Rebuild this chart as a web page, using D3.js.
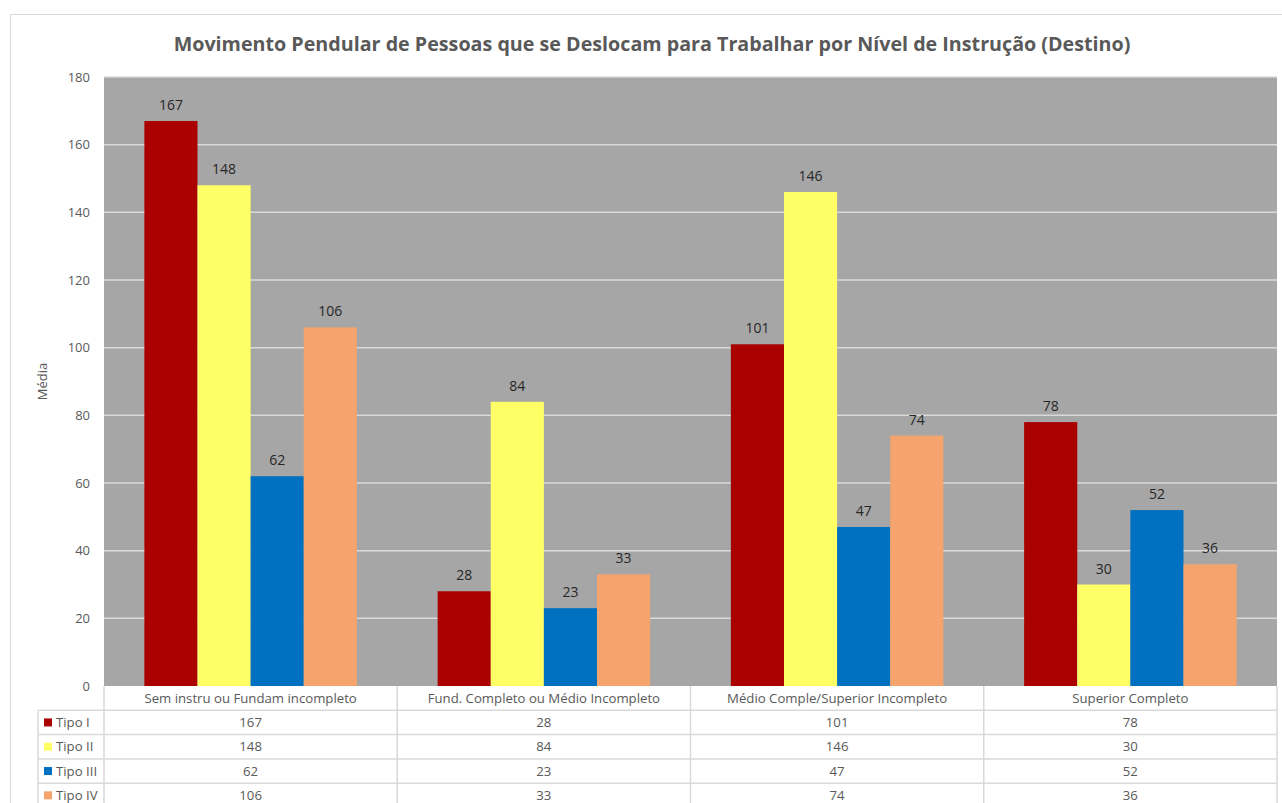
<!DOCTYPE html>
<html>
<head>
<meta charset="utf-8">
<script src="https://cdn.jsdelivr.net/npm/d3@7"></script>
<style>
  body { margin: 0; background: #fff; }
  svg { display: block; font-family: "Open Sans", "Noto Sans", sans-serif; }
</style>
</head>
<body>
<div id="chart"></div>
<script>
// Categories, series and values
const categories = [
    'Sem instru ou Fundam incompleto',
    'Fund. Completo ou Médio Incompleto',
    'Médio Comple/Superior Incompleto',
    'Superior Completo'
];
const seriesNames = ['Tipo I', 'Tipo II', 'Tipo III', 'Tipo IV'];
const seriesColors = ['#aa0000', '#ffff66', '#0070c0', '#f4a46c'];
const tipoI = [167, 28, 101, 78];
const tipoII = [148, 84, 146, 30];
const tipoIII = [62, 23, 47, 52];
const tipoIV = [106, 33, 74, 36];
const yTicks = [0, 20, 40, 60, 80, 100, 120, 140, 160, 180];

const seriesValues = [tipoI, tipoII, tipoIII, tipoIV];

const W = 1282, H = 803;
const plot = { left: 104, right: 1277, top: 77, bottom: 686 };
const rowH = 24.3;
const legendLeft = 38;

const svg = d3.select('#chart').append('svg')
    .attr('width', W)
    .attr('height', H);

// Outer chart border (only top and left edges are visible)
svg.append('path')
    .attr('d', `M10.5,${H} L10.5,14.5 L${W},14.5`)
    .attr('fill', 'none')
    .attr('stroke', '#d9d9d9')
    .attr('stroke-width', 1);

// Title
svg.append('text')
    .attr('x', 652)
    .attr('y', 51)
    .attr('text-anchor', 'middle')
    .attr('font-size', '19.7px')
    .attr('font-weight', 'bold')
    .attr('fill', '#595959')
    .text('Movimento Pendular de Pessoas que se Deslocam para Trabalhar por Nível de Instrução (Destino)');

// Scales
const x0 = d3.scaleBand()
    .domain(categories)
    .range([plot.left, plot.right])
    .paddingInner(0)
    .paddingOuter(0);

const x1 = d3.scaleBand()
    .domain(seriesNames)
    .range([0, x0.bandwidth()])
    .paddingOuter(0.76);

const y = d3.scaleLinear()
    .domain([0, 180])
    .range([plot.bottom, plot.top]);

// Plot background
svg.append('rect')
    .attr('x', plot.left)
    .attr('y', plot.top)
    .attr('width', plot.right - plot.left)
    .attr('height', plot.bottom - plot.top)
    .attr('fill', '#a6a6a6');

// Gridlines
svg.append('g')
    .selectAll('line')
    .data(yTicks.filter(t => t > 0))
    .enter()
    .append('line')
    .attr('x1', plot.left)
    .attr('x2', plot.right)
    .attr('y1', d => y(d))
    .attr('y2', d => y(d))
    .attr('stroke', '#d9d9d9')
    .attr('stroke-width', 1.5);

// Y axis
const yAxis = svg.append('g')
    .attr('transform', `translate(${plot.left},0)`)
    .call(d3.axisLeft(y).tickValues(yTicks).tickSize(0).tickPadding(14));
yAxis.select('.domain').remove();
yAxis.selectAll('text')
    .attr('font-size', '13px')
    .attr('font-family', '"Open Sans", sans-serif')
    .attr('fill', '#595959');

svg.append('text')
    .attr('transform', `translate(47,${(plot.top + plot.bottom) / 2}) rotate(-90)`)
    .attr('text-anchor', 'middle')
    .attr('font-size', '13px')
    .attr('fill', '#595959')
    .text('Média');

// Bars
const groups = svg.append('g')
    .selectAll('g')
    .data(categories)
    .enter()
    .append('g')
    .attr('transform', d => `translate(${x0(d)},0)`);

groups.selectAll('rect')
    .data((c, ci) => seriesNames.map((s, si) => ({ s, si, v: seriesValues[si][ci] })))
    .enter()
    .append('rect')
    .attr('x', d => x1(d.s))
    .attr('y', d => y(d.v))
    .attr('width', x1.bandwidth())
    .attr('height', d => y(0) - y(d.v))
    .attr('fill', d => seriesColors[d.si]);

// Data labels
groups.selectAll('text')
    .data((c, ci) => seriesNames.map((s, si) => ({ s, si, v: seriesValues[si][ci] })))
    .enter()
    .append('text')
    .attr('x', d => x1(d.s) + x1.bandwidth() / 2)
    .attr('y', d => y(d.v) - 11)
    .attr('text-anchor', 'middle')
    .attr('font-size', '14px')
    .attr('fill', '#262626')
    .text(d => d.v);

// Data table
const table = svg.append('g');
const tableBottom = plot.bottom + rowH * 5;
const lineColor = '#d9d9d9';

// Horizontal lines: header bottom and each series row
for (let r = 1; r <= 5; r++) {
    table.append('line')
        .attr('x1', legendLeft)
        .attr('x2', plot.right)
        .attr('y1', plot.bottom + rowH * r)
        .attr('y2', plot.bottom + rowH * r)
        .attr('stroke', lineColor)
        .attr('stroke-width', 1.5);
}

// Vertical lines between categories
const colEdges = categories.map(c => x0(c)).concat([plot.right]);
colEdges.forEach(xv => {
    table.append('line')
        .attr('x1', xv)
        .attr('x2', xv)
        .attr('y1', plot.bottom)
        .attr('y2', tableBottom)
        .attr('stroke', lineColor)
        .attr('stroke-width', 1.5);
});

// Legend column left edge
table.append('line')
    .attr('x1', legendLeft)
    .attr('x2', legendLeft)
    .attr('y1', plot.bottom + rowH)
    .attr('y2', tableBottom)
    .attr('stroke', lineColor)
    .attr('stroke-width', 1.5);

// Category headers
table.selectAll('.cat')
    .data(categories)
    .enter()
    .append('text')
    .attr('x', d => x0(d) + x0.bandwidth() / 2)
    .attr('y', plot.bottom + rowH / 2)
    .attr('dy', '0.35em')
    .attr('text-anchor', 'middle')
    .attr('font-size', '13.2px')
    .attr('fill', '#595959')
    .text(d => d);

// Series rows
seriesNames.forEach((s, si) => {
    const cy = plot.bottom + rowH * (si + 1) + rowH / 2;
    table.append('rect')
        .attr('x', 44)
        .attr('y', cy - 4)
        .attr('width', 8)
        .attr('height', 8)
        .attr('fill', seriesColors[si]);
    table.append('text')
        .attr('x', 56)
        .attr('y', cy)
        .attr('dy', '0.35em')
        .attr('font-size', '13.2px')
        .attr('fill', '#595959')
        .text(s);
    categories.forEach((c, ci) => {
        table.append('text')
            .attr('x', x0(c) + x0.bandwidth() / 2)
            .attr('y', cy)
            .attr('dy', '0.35em')
            .attr('text-anchor', 'middle')
            .attr('font-size', '13.2px')
            .attr('fill', '#595959')
            .text(seriesValues[si][ci]);
    });
});
</script>
</body>
</html>
